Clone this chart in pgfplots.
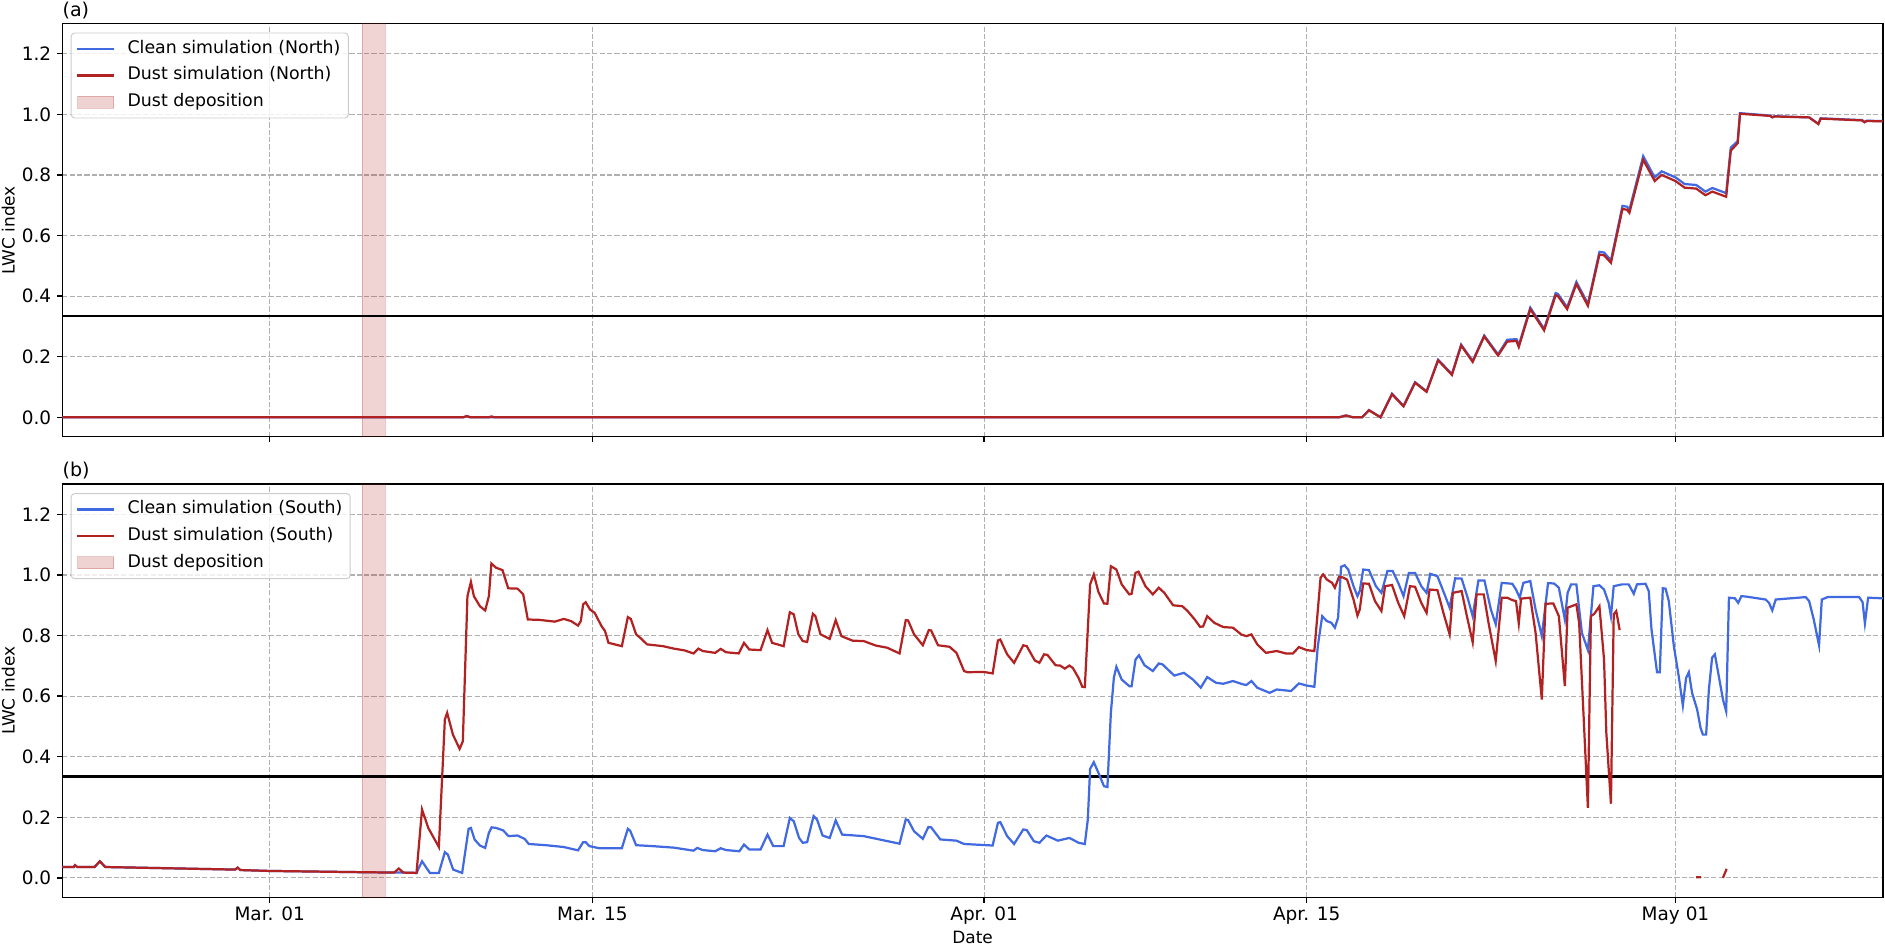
\documentclass[border=0pt]{standalone}
\usepackage{fontspec}
\setmainfont{DejaVu Sans}
\usepackage{pgfplots}
\pgfplotsset{compat=1.18}
\definecolor{cleanblue}{RGB}{65,105,225}
\definecolor{dustred}{RGB}{178,34,34}
\definecolor{gridgray}{RGB}{176,176,176}
\definecolor{legframe}{RGB}{204,204,204}

\pgfplotsset{
  lwcaxis/.style={
    scale only axis,
    width=1310.9pt, height=297.5pt,
    xmin=-9, xmax=70, ymin=-0.064, ymax=1.30,
    xtick={0,14,31,45,61},
    ytick={0,0.2,0.4,0.6,0.8,1.0,1.2},
    grid=major,
    major grid style={gridgray, line width=0.8pt, dash pattern=on 3.7pt off 1.6pt},
    axis line style={black, line width=1.0pt},
    tick align=outside,
    tick pos=left,
    major tick length=4pt,
    tick style={black, line width=1.0pt},
    tick label style={font=\fontsize{13.3}{15}\selectfont},
    /pgf/number format/assume math mode=true,
    yticklabel style={/pgf/number format/.cd, fixed, fixed zerofill, precision=1, /tikz/.cd, anchor=east, inner sep=0pt, xshift=-3.8pt},
    xticklabel style={anchor=base, yshift=-12.8pt},
    ylabel={LWC index},
    ylabel style={font=\fontsize{12.2}{14}\selectfont, at={(axis description cs:-0.02594,0.5)}, anchor=south, inner sep=0pt},
    title style={font=\fontsize{13.7}{16}\selectfont, at={(axis description cs:0,1.0178)}, anchor=base west, inner sep=0pt, yshift=-6pt},
    legend cell align=left,
    legend style={at={(axis description cs:0,1)}, anchor=north west, xshift=6.05pt, yshift=-6.5pt,
      draw=legframe, line width=0.7pt, rounded corners=2.5pt, fill=white, fill opacity=0.8,
      draw opacity=1, text opacity=1,
      font=\fontsize{12.5}{14}\selectfont, inner xsep=3.6pt, inner ysep=3.3pt, row sep=3pt,
      nodes={fill=none, draw=none, inner sep=2pt, text height=9.3pt, text depth=2.9pt}},
    unbounded coords=jump,
  },
  linelegend/.style={legend image code/.code={\draw[##1, fill=none, sharp corners] (0pt,0pt) -- (26.6pt,0pt); \path[draw=none, fill=none] (0pt,-0.1pt) rectangle (34.2pt,0.1pt);}},
  deplegend/.style={legend image code/.code={\path[fill=dustred, fill opacity=0.2, draw=dustred, draw opacity=0.25, line width=0.7pt, sharp corners] (0.3pt,-4.3pt) rectangle (26.3pt,4.3pt); \path[draw=none, fill=none] (0pt,-0.1pt) rectangle (34.2pt,0.1pt);}},
}

\begin{document}
\begin{tikzpicture}
\useasboundingbox (0pt,0pt) rectangle (1357.2pt,680.4pt);

% ---------------- Panel (a) ----------------
\begin{axis}[lwcaxis, at={(44.86pt,365.98pt)}, anchor=south west,
  title={(a)}, xticklabels={}]
\addplot[fill=dustred, fill opacity=0.2, draw=dustred, draw opacity=0.25, forget plot]
  coordinates {(4,-0.2) (4,1.5) (5,1.5) (5,-0.2) (4,-0.2)};
\addplot[black, line width=1.6pt, forget plot] coordinates {(-9,0.335) (70,0.335)};
\addplot[cleanblue, line width=1.6pt, linelegend] coordinates {
(-9,0) (8.4,0) (8.56,0.004) (8.7,0) (46.4,0) (46.7,0.006) (47.0,0) (47.4,0) (47.7,0.024) (48.2,0)
(48.7,0.078) (49.2,0.038) (49.7,0.116) (50.2,0.086) (50.7,0.19) (51.3,0.143) (51.7,0.24) (52.2,0.186)
(52.7,0.27) (53.3,0.208) (53.7,0.256) (54.1,0.258) (54.2,0.238) (54.7,0.362) (55.3,0.292) (55.8,0.41)
(55.9,0.407) (56.3,0.363) (56.7,0.447) (57.2,0.375) (57.7,0.546) (57.9,0.544) (58.2,0.518) (58.7,0.698)
(58.9,0.695) (59.0,0.685) (59.6,0.862) (60.1,0.792) (60.4,0.812) (61.0,0.792) (61.4,0.77) (61.9,0.767)
(62.3,0.745) (62.6,0.757) (63.2,0.74) (63.4,0.89) (63.7,0.912) (63.8,1.004) (65.1,0.996) (65.2,0.991)
(65.3,0.994) (66.8,0.99) (67.2,0.969) (67.3,0.987) (69.1,0.981) (69.2,0.975) (69.3,0.979) (70,0.978)
};
\addlegendentry{Clean simulation (North)}
\addplot[dustred, line width=1.6pt, linelegend] coordinates {
(-9,0) (8.4,0) (8.56,0.004) (8.7,0) (9.5,0) (9.63,0.003) (9.75,0) (46.4,0) (46.7,0.006) (47.0,0)
(47.4,0) (47.7,0.023) (48.2,0) (48.7,0.076) (49.2,0.036) (49.7,0.114) (50.2,0.084) (50.7,0.188)
(51.3,0.14) (51.7,0.237) (52.2,0.183) (52.7,0.267) (53.3,0.204) (53.7,0.25) (54.1,0.252) (54.2,0.232)
(54.7,0.357) (55.3,0.287) (55.8,0.403) (55.9,0.4) (56.3,0.357) (56.7,0.44) (57.2,0.368) (57.7,0.537)
(57.9,0.535) (58.2,0.51) (58.7,0.688) (58.9,0.685) (59.0,0.675) (59.6,0.85) (60.1,0.78) (60.4,0.8)
(61.0,0.78) (61.4,0.758) (61.9,0.755) (62.3,0.733) (62.6,0.745) (63.2,0.728) (63.4,0.88) (63.7,0.905)
(63.8,1.002) (65.1,0.995) (65.2,0.99) (65.3,0.993) (66.8,0.99) (67.2,0.968) (67.3,0.986) (69.1,0.98)
(69.2,0.974) (69.3,0.978) (70,0.977)
};
\addlegendentry{Dust simulation (North)}
\addlegendimage{deplegend}
\addlegendentry{Dust deposition}
\end{axis}

% ---------------- Panel (b) ----------------
\begin{axis}[lwcaxis, at={(44.86pt,34.34pt)}, anchor=south west,
  title={(b)},
  xticklabels={Mar. 01, Mar. 15, Apr. 01, Apr. 15, May 01},
  xlabel={Date},
  xlabel style={font=\fontsize{12.2}{14}\selectfont, at={(axis description cs:0.5,-0.1129)}, anchor=base, inner sep=0pt}]
\addplot[fill=dustred, fill opacity=0.2, draw=dustred, draw opacity=0.25, forget plot]
  coordinates {(4,-0.2) (4,1.5) (5,1.5) (5,-0.2) (4,-0.2)};
\addplot[black, line width=1.6pt, forget plot] coordinates {(-9,0.335) (70,0.335)};
\addplot[cleanblue, line width=1.6pt, linelegend] coordinates {
(-9,0.036) (-8.5,0.036) (-8.45,0.042) (-8.35,0.036) (-7.6,0.036) (-7.37,0.055) (-7.14,0.036)
(-1.5,0.0275) (-1.39,0.034) (-1.28,0.026) (0,0.023) (3.9,0.019) (5.4,0.0176) (5.8,0.0176) (6.37,0.0165)
(6.61,0.055) (6.95,0.0165) (7.34,0.0165) (7.6,0.085) (7.73,0.077) (7.96,0.0275) (8.35,0.0165)
(8.63,0.162) (8.73,0.165) (8.89,0.127) (9.12,0.107) (9.35,0.099) (9.51,0.149) (9.63,0.167) (9.82,0.165)
(10.13,0.157) (10.36,0.138) (10.75,0.14) (11.06,0.129) (11.24,0.112) (11.99,0.108) (12.76,0.102)
(13.38,0.091) (13.6,0.118) (13.71,0.118) (13.87,0.105) (14.3,0.098) (15.28,0.098) (15.54,0.162)
(15.64,0.156) (15.9,0.108) (16.6,0.105) (17.53,0.1) (18.39,0.09) (18.55,0.099) (18.79,0.092)
(19.33,0.088) (19.57,0.098) (19.8,0.092) (20.38,0.088) (20.58,0.11) (20.81,0.094) (21.3,0.094)
(21.6,0.143) (21.85,0.105) (22.3,0.105) (22.57,0.198) (22.74,0.187) (22.97,0.132) (23.13,0.116)
(23.32,0.118) (23.6,0.204) (23.75,0.193) (23.99,0.14) (24.3,0.132) (24.56,0.19) (24.84,0.143)
(25.77,0.138) (27.33,0.113) (27.6,0.193) (27.7,0.191) (27.96,0.154) (28.34,0.129) (28.58,0.168)
(28.7,0.167) (29.1,0.127) (29.8,0.123) (30.13,0.112) (31.37,0.107) (31.6,0.182) (31.7,0.184)
(32.0,0.138) (32.3,0.112) (32.7,0.16) (32.85,0.158) (33.16,0.121) (33.4,0.116) (33.7,0.14)
(34.2,0.123) (34.7,0.132) (35.1,0.116) (35.37,0.112) (35.5,0.193) (35.6,0.36) (35.76,0.382)
(35.96,0.347) (36.2,0.303) (36.35,0.3) (36.5,0.545) (36.63,0.661) (36.74,0.697) (36.97,0.655)
(37.3,0.633) (37.4,0.633) (37.57,0.721) (37.72,0.735) (37.96,0.702) (38.32,0.683) (38.58,0.708)
(38.74,0.705) (39.25,0.668) (39.67,0.677) (40.06,0.655) (40.4,0.628) (40.68,0.663) (41.07,0.644)
(41.38,0.641) (41.8,0.65) (42.23,0.639) (42.38,0.637) (42.6,0.65) (42.85,0.628) (43.39,0.611)
(43.7,0.622) (44.32,0.617) (44.66,0.642) (45.0,0.635) (45.33,0.631) (45.48,0.765) (45.67,0.864)
(45.87,0.848) (46.07,0.842) (46.22,0.826) (46.36,0.859) (46.49,1.027) (46.64,1.032) (46.8,1.018)
(47.03,0.963) (47.2,0.93) (47.3,0.947) (47.45,1.018) (47.7,1.016) (48.0,0.963) (48.24,0.941)
(48.5,1.013) (48.73,1.013) (48.97,0.974) (49.2,0.93) (49.43,1.007) (49.7,1.007) (49.97,0.963)
(50.2,0.941) (50.36,1.004) (50.67,0.996) (50.98,0.936) (51.2,0.892) (51.44,0.989) (51.72,0.988)
(51.98,0.925) (52.2,0.864) (52.45,0.982) (52.71,0.982) (52.99,0.886) (53.2,0.837) (53.46,0.974)
(53.92,0.971) (54.08,0.952) (54.24,0.925) (54.4,0.974) (54.7,0.98) (54.93,0.886) (55.2,0.798)
(55.47,0.973) (55.73,0.972) (55.94,0.958) (56.2,0.853) (56.32,0.941) (56.47,0.969) (56.7,0.969)
(56.94,0.809) (57.2,0.752) (57.44,0.963) (57.7,0.966) (57.9,0.952) (58.1,0.908) (58.2,0.864)
(58.32,0.963) (58.68,0.969) (58.97,0.969) (59.19,0.938) (59.33,0.969) (59.7,0.971) (59.84,0.947)
(59.96,0.82) (60.2,0.679) (60.32,0.679) (60.45,0.956) (60.57,0.955) (60.71,0.914) (60.93,0.765)
(61.14,0.666) (61.32,0.569) (61.46,0.66) (61.58,0.679) (61.72,0.611) (61.94,0.556) (62.09,0.495)
(62.19,0.473) (62.33,0.473) (62.45,0.622) (62.59,0.727) (62.71,0.738) (62.88,0.666) (63.06,0.589)
(63.2,0.55) (63.32,0.925) (63.58,0.923) (63.72,0.908) (63.86,0.93) (64.04,0.929) (64.91,0.919)
(65.06,0.908) (65.2,0.883) (65.35,0.919) (66.65,0.927) (66.8,0.914) (67.0,0.853) (67.23,0.768)
(67.35,0.919) (67.6,0.927) (68.97,0.927) (69.12,0.91) (69.22,0.84) (69.36,0.925) (70,0.923)
};
\addlegendentry{Clean simulation (South)}
\addplot[dustred, line width=1.6pt, linelegend] coordinates {
(-9,0.036) (-8.5,0.036) (-8.45,0.042) (-8.35,0.036) (-7.6,0.036) (-7.37,0.055) (-7.14,0.036)
(-1.5,0.0275) (-1.39,0.034) (-1.28,0.026) (0,0.023) (3.9,0.019) (5.4,0.0176) (5.6,0.031) (5.8,0.0176)
(6.37,0.0165) (6.61,0.226) (6.88,0.165) (7.34,0.102) (7.6,0.523) (7.7,0.545) (7.95,0.473) (8.24,0.426)
(8.38,0.451) (8.58,0.93) (8.73,0.977) (8.86,0.93) (9.12,0.897) (9.35,0.883) (9.51,0.93) (9.62,1.038)
(9.82,1.024) (10.1,1.016) (10.35,0.956) (10.75,0.955) (11.0,0.936) (11.2,0.853) (11.68,0.852)
(12.37,0.846) (12.76,0.855) (13.07,0.848) (13.38,0.833) (13.5,0.848) (13.6,0.903) (13.71,0.91)
(13.9,0.886) (14.1,0.875) (14.4,0.831) (14.55,0.815) (14.7,0.776) (14.97,0.771) (15.28,0.765)
(15.54,0.861) (15.67,0.855) (15.9,0.804) (16.13,0.789) (16.37,0.771) (17.07,0.765) (17.53,0.757)
(18.0,0.751) (18.39,0.741) (18.6,0.757) (18.79,0.749) (19.33,0.743) (19.57,0.756) (19.8,0.745)
(20.35,0.741) (20.58,0.776) (20.81,0.754) (21.3,0.752) (21.6,0.818) (21.8,0.776) (22.3,0.765)
(22.57,0.877) (22.74,0.87) (22.94,0.804) (23.13,0.782) (23.32,0.779) (23.57,0.872) (23.68,0.864)
(23.9,0.804) (24.3,0.789) (24.56,0.851) (24.81,0.798) (25.3,0.783) (25.77,0.782) (26.3,0.767)
(26.79,0.76) (27.33,0.741) (27.6,0.851) (27.7,0.85) (27.96,0.804) (28.34,0.768) (28.6,0.818)
(28.7,0.817) (29.0,0.768) (29.5,0.763) (29.8,0.743) (30.13,0.683) (30.28,0.679) (30.98,0.68)
(31.37,0.675) (31.6,0.784) (31.7,0.787) (32.0,0.738) (32.3,0.71) (32.7,0.768) (32.85,0.765)
(33.2,0.718) (33.4,0.71) (33.6,0.738) (33.75,0.736) (34.1,0.702) (34.3,0.701) (34.5,0.691)
(34.7,0.701) (34.85,0.693) (35.1,0.66) (35.26,0.631) (35.37,0.63) (35.6,0.969) (35.76,1.002)
(35.96,0.944) (36.2,0.906) (36.35,0.905) (36.5,1.029) (36.74,1.018) (36.97,0.969) (37.3,0.936)
(37.4,0.938) (37.57,1.007) (37.7,1.011) (38.0,0.963) (38.32,0.936) (38.58,0.958) (38.82,0.941)
(39.2,0.9) (39.6,0.897) (39.83,0.881) (40.14,0.853) (40.37,0.829) (40.5,0.83) (40.68,0.864)
(40.99,0.842) (41.38,0.828) (41.8,0.826) (42.15,0.804) (42.38,0.798) (42.6,0.804) (42.85,0.771)
(43.23,0.743) (43.7,0.749) (44.09,0.741) (44.4,0.741) (44.66,0.762) (45.0,0.752) (45.33,0.749)
(45.6,0.991) (45.71,1.002) (45.87,0.985) (46.1,0.974) (46.22,0.958) (46.4,0.994) (46.56,0.992)
(46.75,0.985) (47.03,0.919) (47.2,0.866) (47.3,0.886) (47.45,0.972) (47.7,0.971) (47.96,0.914)
(48.24,0.881) (48.4,0.963) (48.7,0.967) (48.97,0.908) (49.23,0.864) (49.48,0.963) (49.7,0.961)
(49.97,0.908) (50.2,0.875) (50.33,0.952) (50.67,0.95) (50.93,0.875) (51.2,0.804) (51.34,0.941)
(51.72,0.947) (51.95,0.864) (52.2,0.778) (52.37,0.936) (52.68,0.936) (52.9,0.837) (53.2,0.716)
(53.46,0.925) (53.7,0.925) (53.92,0.917) (54.08,0.914) (54.2,0.84) (54.3,0.922) (54.7,0.925)
(54.93,0.809) (55.2,0.589) (55.36,0.905) (55.7,0.906) (55.94,0.864) (56.2,0.633) (56.32,0.892)
(56.7,0.903) (56.82,0.842) (57.02,0.523) (57.2,0.231) (57.33,0.864) (57.48,0.872) (57.7,0.897)
(57.9,0.721) (58.0,0.479) (58.2,0.245) (58.32,0.87) (58.43,0.881) (58.58,0.818)
(60,nan)
(61.9,0.002) (62.1,0.002)
(62.6,nan)
(63.06,0.0) (63.22,0.03)
};
\addlegendentry{Dust simulation (South)}
\addlegendimage{deplegend}
\addlegendentry{Dust deposition}
\end{axis}
\end{tikzpicture}
\end{document}
